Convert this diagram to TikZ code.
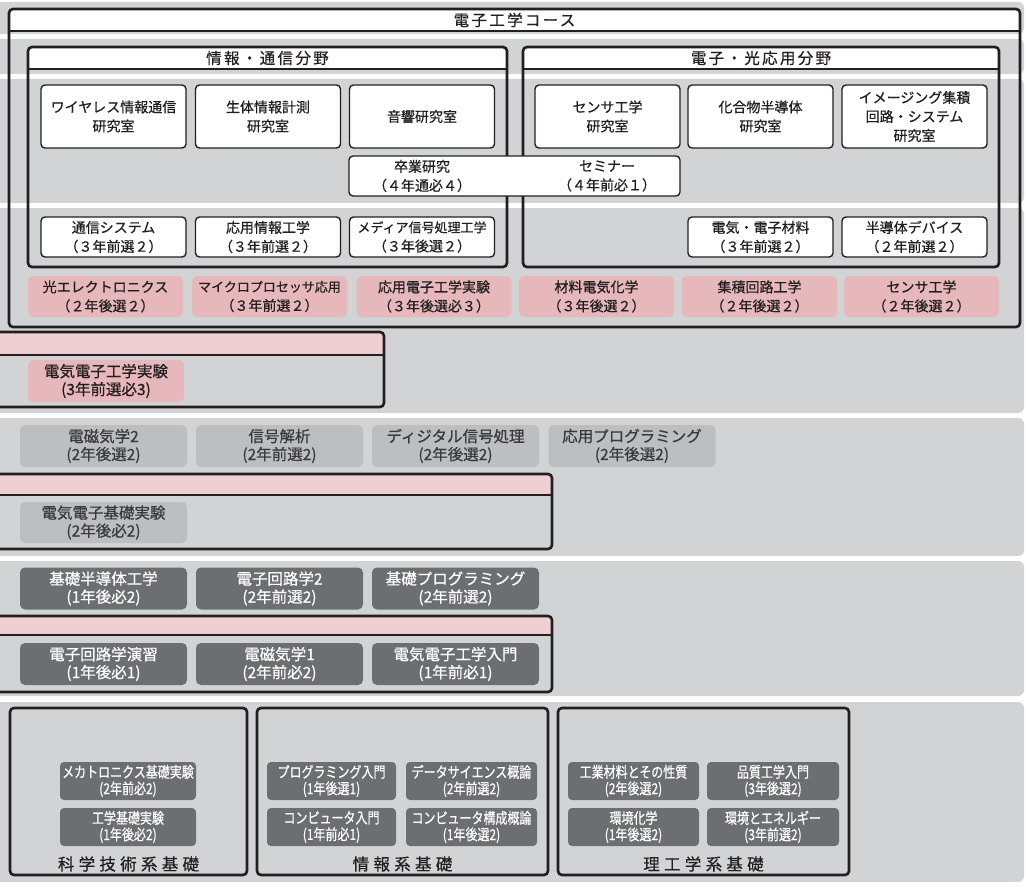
\documentclass[tikz,border=0pt]{standalone}
\usepackage{fontspec}
\setmainfont{Noto Sans CJK JP}[FakeBold=0.6]
\newfontfamily\condjp[FakeStretch=0.8,FakeBold=0.6]{Noto Sans CJK JP}
\newfontfamily\widejp[LetterSpace=15,FakeBold=0.6]{Noto Sans CJK JP}
\newfontfamily\widerjp[LetterSpace=26,FakeBold=0.6]{Noto Sans CJK JP}
\definecolor{band}{HTML}{D1D3D4}
\definecolor{pinkbar}{HTML}{EFCFD2}
\definecolor{pinkbox}{HTML}{E6B8BC}
\definecolor{lgbox}{HTML}{BCBEC0}
\definecolor{dgbox}{HTML}{6D6E71}
\definecolor{ink}{HTML}{231F20}
\definecolor{lgtext}{HTML}{3A3A3C}
\tikzset{
  every node/.style={inner sep=0pt, outer sep=0pt, align=center, text=ink},
  frame/.style={draw=ink, line width=2.6pt, rounded corners=4pt},
  labbox/.style={draw=ink, line width=1.4pt, fill=white, rounded corners=4pt,
    minimum width=145, font=\fontsize{14}{19}\selectfont},
  pinkc/.style={fill=pinkbox, rounded corners=5pt, minimum width=155, minimum height=41,
    font=\fontsize{14}{19}\selectfont},
  pinkl/.style={fill=pinkbox, rounded corners=5pt, minimum width=156, minimum height=42,
    font=\fontsize{15.5}{18}\selectfont},
  lgc/.style={fill=lgbox, rounded corners=5pt, minimum width=167, minimum height=42,
    text=lgtext, font=\fontsize{15.5}{18}\selectfont},
  dgc/.style={fill=dgbox, rounded corners=5pt, minimum width=167, minimum height=42,
    text=white, font=\fontsize{15.5}{18}\selectfont},
  dgs/.style={fill=dgbox, rounded corners=4pt, minimum height=38,
    text=white, font=\condjp\fontsize{15}{16.5}\selectfont},
  titletext/.style={font=\widejp\fontsize{15.5}{18}\selectfont},
  grouptext/.style={font=\widerjp\fontsize{16.5}{18}\selectfont},
  txt/.style={font=\fontsize{14}{19}\selectfont},
}
\newcommand\mkframe[6]{%
  \begin{scope}
    \clip[rounded corners=4pt] (#1,#2) rectangle (#3,#4);
    \fill[#6] (#1,#2) rectangle (#3,#5);
  \end{scope}
  \draw[frame] (#1,#2) rectangle (#3,#4);
  \draw[ink, line width=2pt] (#1,#5) -- (#3,#5);}
\begin{document}
\begin{tikzpicture}[x=1pt,y=-1pt]
\useasboundingbox (0,0) rectangle (1026,888);
\clip (0,0) rectangle (1026,888);
% background bands
\foreach \a/\b in {2/34, 39/74, 79/203, 208/413, 418/556, 561/696, 702/882}
  \fill[band, rounded corners=6pt] (-20,\a) rectangle (1024,\b);

% ===== course frame =====
\mkframe{9}{9}{1020}{327}{31}{white}
\node[titletext] (course) at (514.5,20) {電子工学コース};
\mkframe{28}{47}{507}{267}{69}{white}
\node[titletext] (fieldA) at (267.5,58) {情報・通信分野};
\mkframe{523}{47}{999}{267}{69}{white}
\node[titletext] (fieldB) at (761,58) {電子・光応用分野};

% labs
\node[labbox, minimum height=63] (lab1) at (113.5,116.5) {ワイヤレス情報通信\\研究室};
\node[labbox, minimum height=63] (lab2) at (268,116.5) {生体情報計測\\研究室};
\node[labbox, minimum height=63] (lab3) at (422,116.5) {音響研究室};
\node[labbox, minimum height=63] (lab4) at (607.5,116.5) {センサ工学\\研究室};
\node[labbox, minimum height=63] (lab5) at (760.5,116.5) {化合物半導体\\研究室};
\node[labbox, minimum height=63] (lab6) at (914.5,116.5) {イメージング集積\\回路・システム\\研究室};

% thesis / seminar
\node[labbox, minimum width=331, minimum height=40] (thesis) at (514.5,176) {};
\node[txt] (sotsu) at (422,176) {卒業研究\\（４年通必４）};
\node[txt] (semi) at (607,176) {セミナー\\（４年前必１）};

% 3rd-year courses
\node[labbox, minimum height=40] (c1) at (113.5,237) {通信システム\\（３年前選２）};
\node[labbox, minimum height=40] (c2) at (268,237) {応用情報工学\\（３年前選２）};
\node[labbox, minimum height=40] (c3) at (422,237) {{\fontsize{13}{19}\selectfont メディア信号処理工学}\\（３年後選２）};
\node[labbox, minimum height=40] (c4) at (760.5,237) {電気・電子材料\\（３年前選２）};
\node[labbox, minimum height=40] (c5) at (914.5,237) {半導体デバイス\\（２年前選２）};

% pink row
\node[pinkc] (p1) at (105.5,296.5) {光エレクトロニクス\\（２年後選２）};
\node[pinkc] (p2) at (269.5,296.5) {{\fontsize{13}{19}\selectfont マイクロプロセッサ応用}\\（３年前選２）};
\node[pinkc] (p3) at (434,296.5) {応用電子工学実験\\（３年後選必３）};
\node[pinkc] (p4) at (596.5,296.5) {材料電気化学\\（３年後選２）};
\node[pinkc] (p5) at (759.5,296.5) {集積回路工学\\（２年後選２）};
\node[pinkc] (p6) at (921.5,296.5) {センサ工学\\（２年後選２）};

% ===== section 2 =====
\mkframe{-10}{332}{384}{407}{355}{pinkbar}
\node[pinkl] (e1) at (106,381) {電気電子工学実験\\(3年前選必3)};

% ===== section 3 =====
\node[lgc] (g1) at (103.5,446) {電磁気学2\\(2年後選2)};
\node[lgc] (g2) at (279.5,446) {信号解析\\(2年前選2)};
\node[lgc] (g3) at (455.5,446) {ディジタル信号処理\\(2年後選2)};
\node[lgc] (g4) at (632,446) {応用プログラミング\\(2年後選2)};
\mkframe{-10}{474}{552}{549}{495}{pinkbar}
\node[lgc, minimum height=41] (g5) at (103.5,522.5) {電気電子基礎実験\\(2年後必2)};

% ===== section 4 =====
\node[dgc] (d1) at (103.5,588.5) {基礎半導体工学\\(1年後必2)};
\node[dgc] (d2) at (279.5,588.5) {電子回路学2\\(2年前選2)};
\node[dgc] (d3) at (455.5,588.5) {基礎プログラミング\\(2年前選2)};
\mkframe{-10}{616}{552}{692}{635}{pinkbar}
\node[dgc] (d4) at (103.5,664) {電子回路学演習\\(1年後必1)};
\node[dgc] (d5) at (279.5,664) {電磁気学1\\(2年前必2)};
\node[dgc] (d6) at (455.5,664) {電気電子工学入門\\(1年前必1)};

% ===== foundation groups =====
\draw[frame] (10,708) rectangle (247,875);
\draw[frame] (257,708) rectangle (548,875);
\draw[frame] (558,708) rectangle (849,875);

\node[dgs, minimum width=136] (b1) at (128,781) {メカトロニクス基礎実験\\(2年前必2)};
\node[dgs, minimum width=136] (b2) at (128,827) {工学基礎実験\\(1年後必2)};
\node[grouptext] (gl1) at (128.5,864) {科学技術系基礎};

\node[dgs, minimum width=129] (b3) at (331.5,781) {プログラミング入門\\(1年後選1)};
\node[dgs, minimum width=131] (b4) at (471.5,781) {データサイエンス概論\\(2年前選2)};
\node[dgs, minimum width=129] (b5) at (331.5,827) {コンピュータ入門\\(1年前必1)};
\node[dgs, minimum width=131] (b6) at (471.5,827) {コンピュータ構成概論\\(1年後選2)};
\node[grouptext] (gl2) at (402.5,864) {情報系基礎};

\node[dgs, minimum width=131] (b7) at (633.5,781) {工業材料とその性質\\(2年後選2)};
\node[dgs, minimum width=132] (b8) at (773,781) {品質工学入門\\(3年後選2)};
\node[dgs, minimum width=131] (b9) at (633.5,827) {環境化学\\(1年後選2)};
\node[dgs, minimum width=132] (b10) at (773,827) {環境とエネルギー\\(3年前選2)};
\node[grouptext] (gl3) at (703.5,864) {理工学系基礎};
\end{tikzpicture}
\end{document}
